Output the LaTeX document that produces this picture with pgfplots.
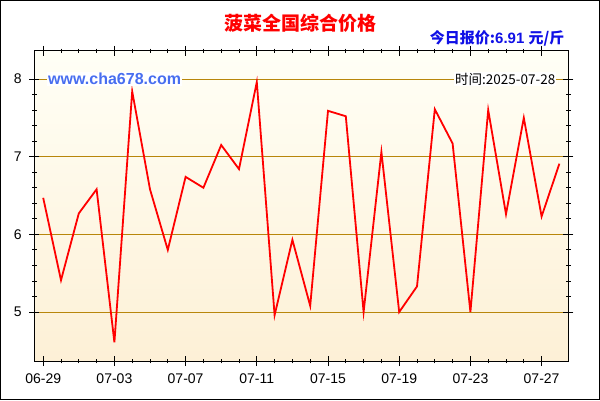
\documentclass[border=0pt]{standalone}
\usepackage{pgfplots}
\pgfplotsset{compat=1.18}
\usepackage{fontspec}
\setmainfont{Liberation Sans}
\newfontfamily\cjk{Noto Sans CJK SC}
\definecolor{gridgold}{RGB}{184,134,11}
\definecolor{bgtop}{RGB}{255,255,246}
\definecolor{bgbot}{RGB}{253,240,214}
\definecolor{siteblue}{RGB}{72,110,240}
\definecolor{priceblue}{RGB}{16,16,230}

\begin{document}
\begin{tikzpicture}[x=1pt,y=1pt]
  \useasboundingbox (0,0) rectangle (600,400);
  \begin{axis}[
      at={(34.3pt,39pt)}, anchor=south west,
      scale only axis,
      width=534pt, height=310pt,
      xmin=-0.5, xmax=29.5,
      ymin=4.37, ymax=8.36,
      xtick={0,4,...,28},
      xticklabels={06-29,07-03,07-07,07-11,07-15,07-19,07-23,07-27},
      minor x tick num=3,
      ytick={5,6,7,8},
      minor y tick num=4,
      tick align=center,
      major tick length=10pt,
      minor tick length=4.5pt,
      every tick/.style={black, line width=0.9pt},
      axis line style={black, line width=1pt},
      ymajorgrids,
      major grid style={gridgold, line width=0.9pt},
      ticklabel style={font=\fontsize{14}{16}\selectfont},
      /pgf/number format/assume math mode=true,
      xticklabel style={yshift=-4pt},
      yticklabel style={xshift=-4pt},
      axis background/.style={top color=bgtop, bottom color=bgbot},
    ]
    \addplot[red, line width=1.8pt, mark=none] coordinates {
      (0,6.47) (1,5.41) (2,6.27) (3,6.58) (4,4.61) (5,7.84)
      (6,6.58) (7,5.80) (8,6.74) (9,6.60) (10,7.15) (11,6.84)
      (12,7.96) (13,4.96) (14,5.93) (15,5.08) (16,7.59) (17,7.52)
      (18,5.00) (19,7.06) (20,5.00) (21,5.33) (22,7.61) (23,7.17)
      (24,5.00) (25,7.60) (26,6.26) (27,7.50) (28,6.23) (29,6.91)
    };
  \end{axis}
  \draw[line width=1pt] (0.5,0.5) rectangle (599.5,399.5);
  \node[text=red, font=\cjk\bfseries\fontsize{19}{21}\selectfont] at (300,377) {菠菜全国综合价格};
  \node[anchor=east, text=priceblue, font=\bfseries\fontsize{15}{17}\selectfont, inner sep=0pt] at (564.5,362) {{\cjk 今日报价:}6.91 {\cjk 元/斤}};
  \node[anchor=west, text=siteblue, fill=white, font=\bfseries\fontsize{16}{18}\selectfont, inner sep=1pt] at (47,321) {www.cha678.com};
  \node[anchor=east, fill=white, font=\cjk\fontsize{13.5}{15}\selectfont, inner sep=1pt] at (556.5,321) {时间:2025-07-28};
\end{tikzpicture}
\end{document}
